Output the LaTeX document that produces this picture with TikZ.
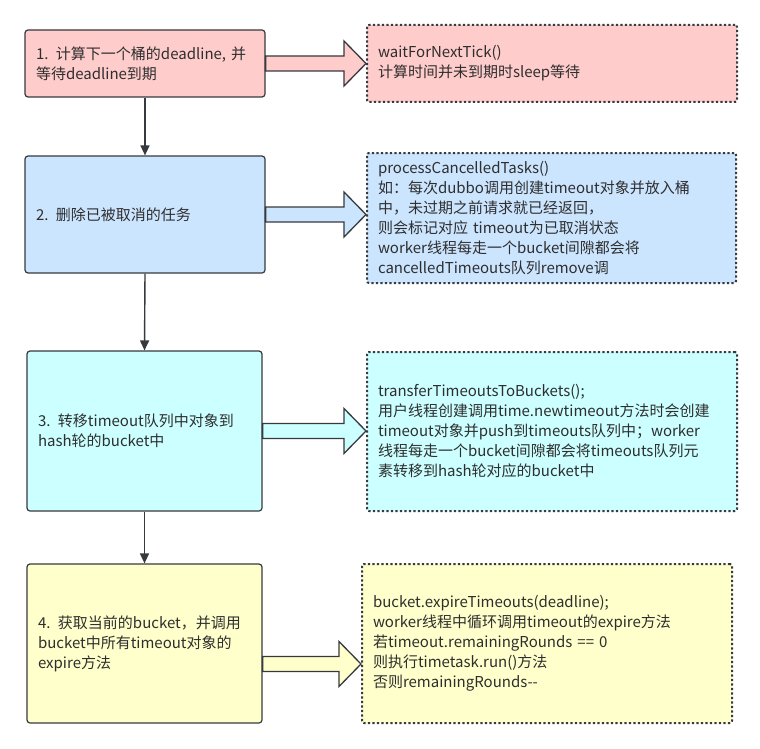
\documentclass[tikz,border=0pt]{standalone}
\usepackage{fontspec}
\usepackage{xcolor}
\usepackage{tikz}
\usetikzlibrary{arrows.meta,calc}
\newfontfamily\cjk{Noto Sans CJK SC}

\definecolor{linegray}{HTML}{36393D}
\definecolor{pinkfill}{HTML}{FFCCCC}
\definecolor{bluefill}{HTML}{CCE5FF}
\definecolor{cyanfill}{HTML}{CCFFFF}
\definecolor{yellowfill}{HTML}{FFFFCC}

\tikzset{
  stepbox/.style={draw=linegray, line width=1.2pt, rounded corners=3pt,
    inner xsep=11pt, align=left, text=black!82,
    font=\cjk\fontsize{15}{20}\selectfont},
  notebox/.style={draw=linegray, line width=2pt, dash pattern=on 2.2pt off 2.3pt,
    rounded corners=2pt, inner xsep=11pt, align=left, text=black!82,
    font=\cjk\fontsize{15}{20}\selectfont},
  flow/.style={draw=linegray, line width=1.4pt, -{Triangle[length=10pt,width=9pt]}},
  fatarrow/.style={draw=linegray, line width=1.3pt, line join=miter}
}

\begin{document}
\begin{tikzpicture}[x=1pt, y=-1pt]
    \useasboundingbox (0,0) rectangle (760,749);

    % Steps of the worker loop (left column)
    \node[stepbox, fill=pinkfill, minimum width=240pt, minimum height=67pt, text width=218pt] (b1) at (145,63.5)
        {1. 计算下一个桶的deadline, 并\\等待deadline到期};
    \node[stepbox, fill=bluefill, minimum width=240pt, minimum height=117pt, text width=218pt] (b2) at (145,214.5)
        {2. 删除已被取消的任务};
    \node[stepbox, fill=cyanfill, minimum width=235pt, minimum height=160pt, text width=213pt] (b3) at (144.5,431)
        {3. 转移timeout队列中对象到\\hash轮的bucket中};
    \node[stepbox, fill=yellowfill, minimum width=235pt, minimum height=159pt, text width=213pt] (b4) at (144.5,643.5)
        {4. 获取当前的bucket，并调用\\bucket中所有timeout对象的\\expire方法};

    % Notes (right column)
    \node[notebox, fill=pinkfill, minimum width=370pt, minimum height=77pt, text width=348pt] (r1) at (552,63.5)
        {waitForNextTick()\\计算时间并未到期时sleep等待};
    \node[notebox, fill=bluefill, minimum width=369pt, minimum height=130pt, text width=347pt] (r2) at (551.5,218)
        {processCancelledTasks()\\如：每次dubbo调用创建timeout对象并放入桶\\中，未过期之前请求就已经返回，\\则会标记对应 timeout为已取消状态\\worker线程每走一个bucket间隙都会将\\cancelledTimeouts队列remove调};
    \node[notebox, fill=cyanfill, minimum width=370pt, minimum height=159pt, text width=348pt] (r3) at (552,431.5)
        {transferTimeoutsToBuckets();\\用户线程创建调用time.newtimeout方法时会创建\\timeout对象并push到timeouts队列中；worker\\线程每走一个bucket间隙都会将timeouts队列元\\素转移到hash轮对应的bucket中};
    \node[notebox, fill=yellowfill, minimum width=370pt, minimum height=159pt, text width=348pt] (r4) at (547,643.5)
        {bucket.expireTimeouts(deadline);\\worker线程中循环调用timeout的expire方法\\若timeout.remainingRounds == 0\\则执行timetask.run()方法\\否则remainingRounds--};

    % Flow between steps
    \foreach \a/\b in {b1/b2, b2/b3, b3/b4}
        \draw[flow] (\a.south) -- (\b.north);

    % Block arrows from each step to its note
    \foreach \src/\dst/\col/\dy in {b1/r1/pinkfill/0, b2/r2/bluefill/0, b3/r3/cyanfill/0, b4/r4/yellowfill/-20.5}
        \draw[fatarrow, fill=\col] let \p1=([yshift=\dy pt]\src.east), \p2=(\dst.west) in
            (\x1,\y1+7.5pt) -- (\x2-22pt,\y1+7.5pt) -- (\x2-22pt,\y1+22.5pt) -- (\x2,\y1)
            -- (\x2-22pt,\y1-22.5pt) -- (\x2-22pt,\y1-7.5pt) -- (\x1,\y1-7.5pt) -- cycle;
\end{tikzpicture}
\end{document}
